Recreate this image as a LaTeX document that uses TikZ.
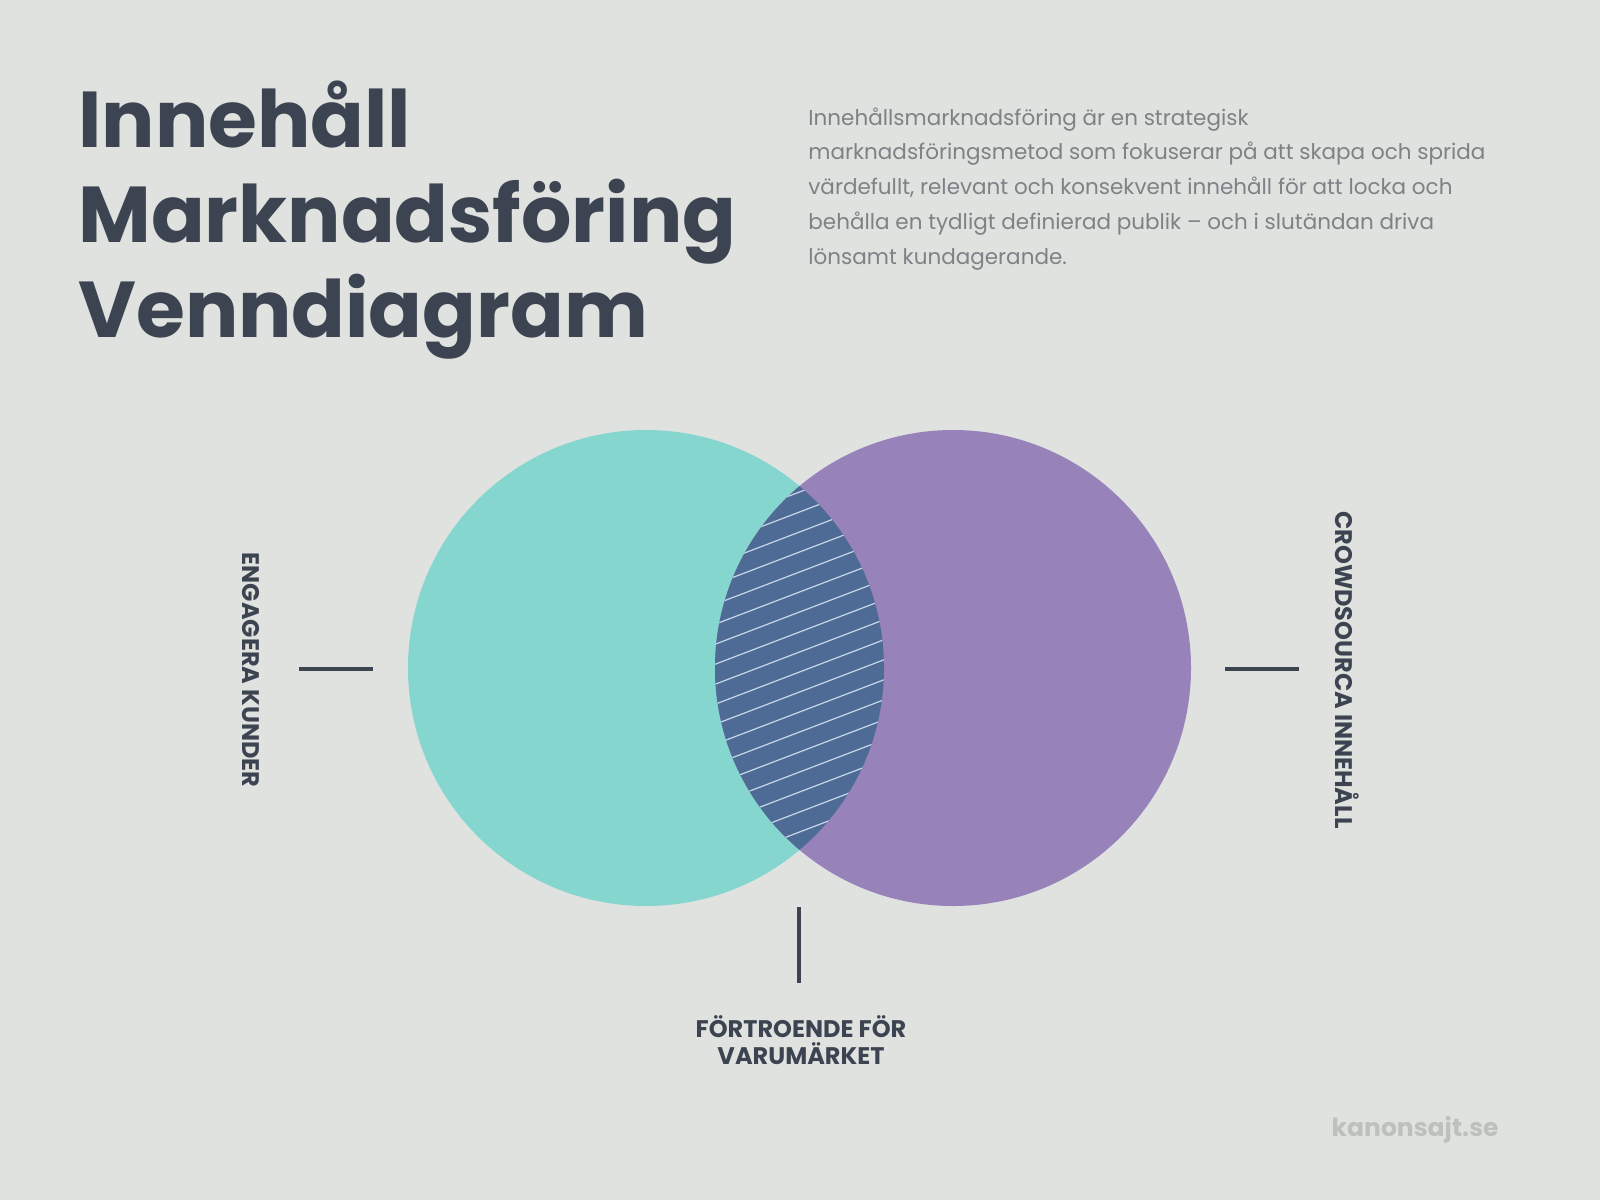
\documentclass[tikz,border=0pt]{standalone}
\usepackage{fontspec}
\setmainfont{Poppins}
\definecolor{bgpaper}{HTML}{E0E2DF}
\definecolor{inkslate}{HTML}{3D4451}
\definecolor{textgray}{HTML}{7E8186}
\definecolor{tealset}{HTML}{86D6D0}
\definecolor{violetset}{HTML}{9783BA}
\definecolor{lensblue}{HTML}{4D6B94}
\definecolor{hatchline}{HTML}{C9D7EA}
\definecolor{markgray}{HTML}{BEC0BE}
\tikzset{
  tick/.style={inkslate, line width=2pt},
  setlabel/.style={inkslate, font=\bfseries\fontsize{12}{13.5}\selectfont, align=center},
}

\begin{document}
\begin{tikzpicture}[x=0.5pt, y=-0.5pt]
      \fill[bgpaper] (0, 0) rectangle (1600, 1200);
      \useasboundingbox (0, 0) rectangle (1600, 1200);

      \node[anchor=base west, inkslate, align=left, inner sep=0pt,
            font=\bfseries\fontsize{39.6}{47.5}\selectfont] (title) at (78, 337)
        {Innehåll\\Marknadsföring\\Venndiagram};
      \node[anchor=base west, textgray, align=left, inner sep=0pt,
            font=\fontsize{10.75}{17.35}\selectfont] (intro) at (808, 264)
        {Innehållsmarknadsföring är en strategisk\\
         marknadsföringsmetod som fokuserar på att skapa och sprida\\
         värdefullt, relevant och konsekvent innehåll för att locka och\\
         behålla en tydligt definierad publik – och i slutändan driva\\
         lönsamt kundagerande.};

      \fill[tealset] (646, 668) circle (238);
      \fill[violetset] (953, 668) circle (238);
      \begin{scope}
        \clip (646, 668) circle (238);
        \clip (953, 668) circle (238);
        \fill[lensblue] (700, 470) rectangle (900, 870);
        \foreach \k in {0,...,24}
          \draw[hatchline, line width=0.6pt] (700, 470+20*\k) -- ++(220, -84);
      \end{scope}

      \coordinate (leftA) at (299, 669);
      \coordinate (leftB) at (373, 669);
      \coordinate (rightA) at (1225, 669);
      \coordinate (rightB) at (1299, 669);
      \coordinate (lowA) at (799, 907);
      \coordinate (lowB) at (799, 983);
      \draw[tick] (leftA) -- (leftB);
      \draw[tick] (rightA) -- (rightB);
      \draw[tick] (lowA) -- (lowB);

      \node[setlabel, rotate=-90] (engage) at (251, 670) {ENGAGERA KUNDER};
      \node[setlabel, rotate=-90] (crowd) at (1347, 670) {CROWDSOURCA INNEHÅLL};
      \node[setlabel, anchor=base] (trust) at (801, 1064) {FÖRTROENDE FÖR\\VARUMÄRKET};

      \node[anchor=base east, markgray, inner sep=0pt,
            font=\bfseries\fontsize{12.5}{15}\selectfont] (brand) at (1499, 1136) {kanonsajt.se};
    \end{tikzpicture}
\end{document}
